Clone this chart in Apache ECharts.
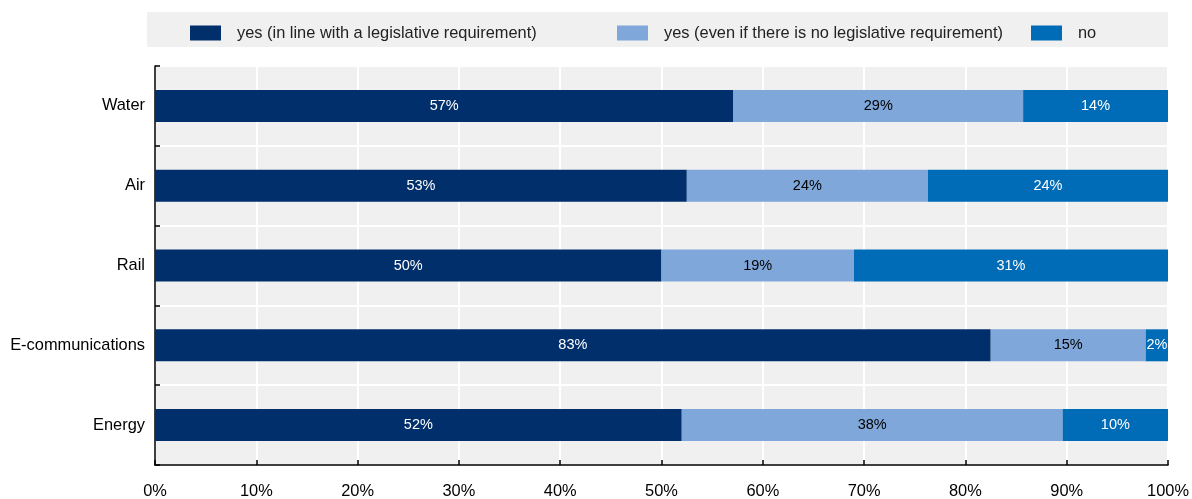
<!DOCTYPE html>
<html>
<head>
<meta charset="utf-8">
<script src="https://cdn.jsdelivr.net/npm/echarts@6/dist/echarts.min.js"></script>
<style>html,body{margin:0;padding:0;background:#fff}#c{width:1192px;height:499px}</style>
</head>
<body>
<div id="c"></div>
<script>
const categories = ['Water', 'Air', 'Rail', 'E-communications', 'Energy'];
const seriesNames = ['yes (in line with a legislative requirement)', 'yes (even if there is no legislative requirement)', 'no'];
const yesLegal = [57.1, 52.5, 50.0, 82.5, 52.0];
const yesNoLegal = [28.6, 23.8, 19.0, 15.3, 37.6];
const no = [14.3, 23.7, 31.0, 2.2, 10.4];
const xTicks = [0, 10, 20, 30, 40, 50, 60, 70, 80, 90, 100];

const colors = ['#002f6c', '#7fa7d9', '#006bb6'];
const labelColors = ['#ffffff', '#000000', '#ffffff'];
const values = [yesLegal, yesNoLegal, no];

const chart = echarts.init(document.getElementById('c'), null, {renderer: 'canvas'});
const FONT = 'Liberation Sans, Arial, sans-serif';

const legendPos = [190, 617, 1031];
const option = {
  animation: false,
  backgroundColor: '#ffffff',
  graphic: [{
    type: 'rect', left: 147, top: 12, shape: {width: 1021, height: 35},
    style: {fill: '#f0f0f0'}, z: -10
  }],
  legend: seriesNames.map((n, i) => ({
    data: [n], left: legendPos[i], top: 25, itemWidth: 31, itemHeight: 15,
    icon: 'rect', padding: 0,
    textStyle: {fontFamily: FONT, fontSize: 16.4, color: '#222', padding: [2, 0, 0, 11]}
  })),
  grid: {
    left: 155, right: 24, top: 66, bottom: 34, show: true,
    backgroundColor: '#f0f0f0', borderWidth: 0, containLabel: false
  },
  xAxis: {
    type: 'value', min: 0, max: 100, interval: 10,
    axisLine: {show: true, lineStyle: {color: '#000', width: 1.5}},
    axisTick: {show: true, inside: true, length: 5, lineStyle: {color: '#000', width: 1.5}},
    axisLabel: {fontFamily: FONT, fontSize: 16.4, color: '#000', margin: 18,
      formatter: v => xTicks.includes(v) ? v + '%' : ''},
    splitLine: {show: true, lineStyle: {color: '#ffffff', width: 2}}
  },
  yAxis: {
    type: 'category', data: categories, inverse: true,
    axisLine: {show: true, lineStyle: {color: '#000', width: 1.5}},
    axisTick: {show: true, inside: true, length: 5, lineStyle: {color: '#000', width: 1.5}},
    axisLabel: {fontFamily: FONT, fontSize: 16.4, color: '#000', margin: 10, padding: [3, 0, 0, 0]},
    splitLine: {show: true, lineStyle: {color: '#ffffff', width: 2}}
  },
  series: seriesNames.map((n, i) => ({
    name: n, type: 'bar', stack: 'total', data: values[i], barWidth: 32,
    itemStyle: {color: colors[i]},
    label: {show: true, position: 'inside', fontFamily: FONT, fontSize: 14.5,
      color: labelColors[i], padding: [2, 0, 0, 0], formatter: p => Math.round(p.value) + '%'}
  })),
  color: colors
};
chart.setOption(option);
</script>
</body>
</html>
